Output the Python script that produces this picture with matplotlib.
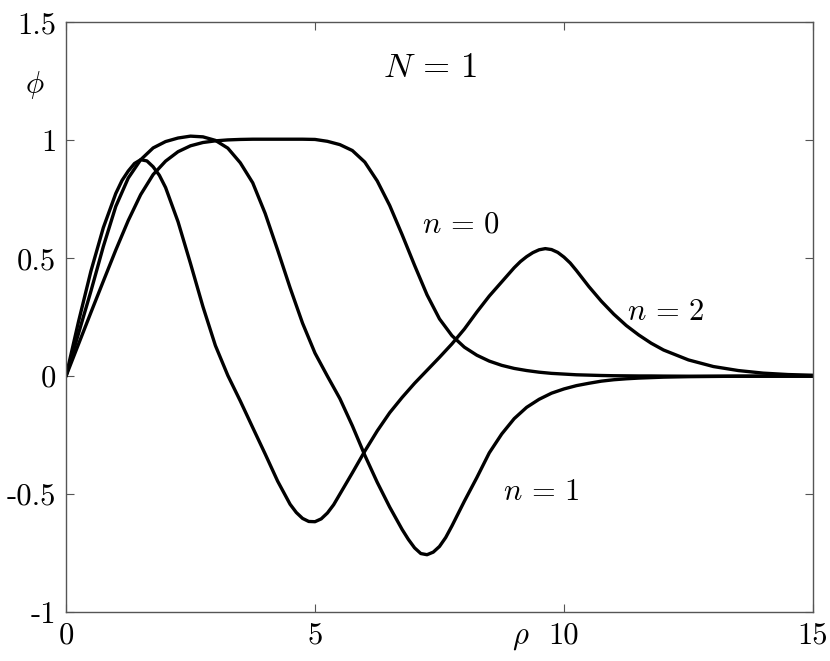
import matplotlib
matplotlib.use('Agg')
import matplotlib.pyplot as plt

plt.rcParams['mathtext.fontset'] = 'cm'
plt.rcParams['axes.unicode_minus'] = False

# values; each curve has its own rho samples
# (finer steps around the peaks and troughs)
rho_n0 = [0.0, 0.25, 0.5, 0.75, 1.0, 1.25, 1.5, 1.75, 2.0, 2.25, 2.5, 2.75,
          3.0, 3.25, 3.5, 3.75, 4.0, 4.25, 4.5, 4.75, 5.0, 5.25, 5.5, 5.75,
          6.0, 6.25, 6.5, 6.75, 7.0, 7.25, 7.5, 7.75, 8.0, 8.25, 8.5, 8.75,
          9.0, 9.25, 9.5, 9.75, 10.0, 10.25, 10.5, 10.75, 11.0, 11.25, 11.5,
          11.75, 12.0, 12.5, 13.0, 13.5, 14.0, 14.5, 15.0]
phi_n0 = [0.0, 0.135, 0.27, 0.403, 0.535, 0.66, 0.77, 0.855, 0.912, 0.952,
          0.977, 0.991, 0.998, 1.002, 1.004, 1.005, 1.005, 1.005, 1.005, 1.005,
          1.004, 0.996, 0.982, 0.957, 0.908, 0.828, 0.724, 0.60, 0.47, 0.345,
          0.243, 0.172, 0.123, 0.089, 0.064, 0.046, 0.033, 0.024, 0.017, 0.012,
          0.009, 0.006, 0.0045, 0.003, 0.002, 0.0015, 0.001, 0.001, 0.0005,
          0.0, 0.0, 0.0, 0.0, 0.0, 0.0]

rho_n1 = [0.0, 0.25, 0.5, 0.75, 1.0, 1.25, 1.5, 1.75, 2.0, 2.25, 2.5, 2.75,
          3.0, 3.25, 3.5, 3.75, 4.0, 4.25, 4.5, 4.75, 5.0, 5.25, 5.5, 5.75,
          6.0, 6.25, 6.5, 6.75, 6.875, 7.0, 7.125, 7.25, 7.375, 7.5, 7.625,
          7.75, 8.0, 8.25, 8.5, 8.75, 9.0, 9.25, 9.5, 9.75, 10.0, 10.25, 10.5,
          10.75, 11.0, 11.25, 11.5, 11.75, 12.0, 12.5, 13.0, 13.5, 14.0, 14.5,
          15.0]
phi_n1 = [0.0, 0.18, 0.36, 0.55, 0.72, 0.84, 0.918, 0.968, 0.995, 1.01,
          1.018, 1.015, 1.0, 0.967, 0.905, 0.82, 0.69, 0.535, 0.375, 0.225,
          0.098, 0.0, -0.095, -0.21, -0.335, -0.45, -0.555, -0.65, -0.692,
          -0.728, -0.752, -0.757, -0.746, -0.722, -0.684, -0.635, -0.53,
          -0.43, -0.325, -0.245, -0.18, -0.132, -0.098, -0.072, -0.054, -0.04,
          -0.03, -0.021, -0.015, -0.011, -0.008, -0.006, -0.004, -0.002,
          -0.001, 0.0, 0.0, 0.0, 0.0]

rho_n2 = [0.0, 0.25, 0.5, 0.75, 1.0, 1.125, 1.25, 1.375, 1.5, 1.625, 1.75,
          1.875, 2.0, 2.25, 2.5, 2.75, 3.0, 3.25, 3.5, 3.75, 4.0, 4.25, 4.5,
          4.625, 4.75, 4.875, 5.0, 5.125, 5.25, 5.375, 5.5, 5.75, 6.0, 6.25,
          6.5, 6.75, 7.0, 7.25, 7.5, 7.75, 8.0, 8.25, 8.5, 8.75, 9.0, 9.125,
          9.25, 9.375, 9.5, 9.625, 9.75, 9.875, 10.0, 10.125, 10.25, 10.5,
          10.75, 11.0, 11.25, 11.5, 11.75, 12.0, 12.5, 13.0, 13.5, 14.0, 14.5,
          15.0]
phi_n2 = [0.0, 0.23, 0.445, 0.63, 0.775, 0.83, 0.87, 0.902, 0.918, 0.913,
          0.888, 0.852, 0.80, 0.655, 0.478, 0.295, 0.13, 0.003, -0.105,
          -0.218, -0.33, -0.445, -0.543, -0.578, -0.603, -0.616, -0.617,
          -0.605, -0.58, -0.545, -0.50, -0.41, -0.318, -0.232, -0.155, -0.09,
          -0.03, 0.025, 0.08, 0.137, 0.20, 0.272, 0.34, 0.40, 0.46, 0.486,
          0.507, 0.524, 0.536, 0.541, 0.537, 0.525, 0.505, 0.48, 0.448, 0.38,
          0.318, 0.263, 0.215, 0.175, 0.14, 0.111, 0.069, 0.041, 0.024, 0.013,
          0.007, 0.004]

x_ticks = [0, 5, 10, 15]
x_tick_labels = ['0', '5', '10', '15']
y_ticks = [-1, -0.5, 0, 0.5, 1, 1.5]
y_tick_labels = ['-1', '-0.5', '0', '0.5', '1', '1.5']

fig = plt.figure(figsize=(8.3, 6.61), dpi=100)
ax = fig.add_axes([0.0795, 0.0741, 0.9, 0.8919])

for r, phi in ((rho_n0, phi_n0), (rho_n1, phi_n1), (rho_n2, phi_n2)):
    ax.plot(r, phi, color='black', linewidth=2.4,
            solid_joinstyle='round', solid_capstyle='round')

ax.set_xlim(0, 15)
ax.set_ylim(-1, 1.5)
ax.set_xticks(x_ticks)
ax.set_xticklabels(x_tick_labels, fontfamily='cmr10', fontsize=22)
ax.set_yticks(y_ticks)
ax.set_yticklabels(y_tick_labels, fontfamily='cmr10', fontsize=22)
ax.tick_params(direction='in', length=6, width=0.8, color='#555555',
               top=True, right=True, pad=7)
for spine in ax.spines.values():
    spine.set_color('#555555')
    spine.set_linewidth(1.0)

# annotations
ax.text(6.37, 1.268, r'$N\,=\,1$', fontsize=25, ha='left', va='baseline')
ax.text(7.14, 0.611, r'$n\,=\,0$', fontsize=22, ha='left', va='baseline')
ax.text(11.26, 0.237, r'$n\,=\,2$', fontsize=22, ha='left', va='baseline')
ax.text(8.77, -0.525, r'$n\,=\,1$', fontsize=22, ha='left', va='baseline')

fig.text(0.0416, 0.871, r'$\phi$', fontsize=22, ha='center', va='center')
fig.text(0.628, 0.035, r'$\rho$', fontsize=22, ha='center', va='center')

fig.savefig('out.png', dpi=100)
